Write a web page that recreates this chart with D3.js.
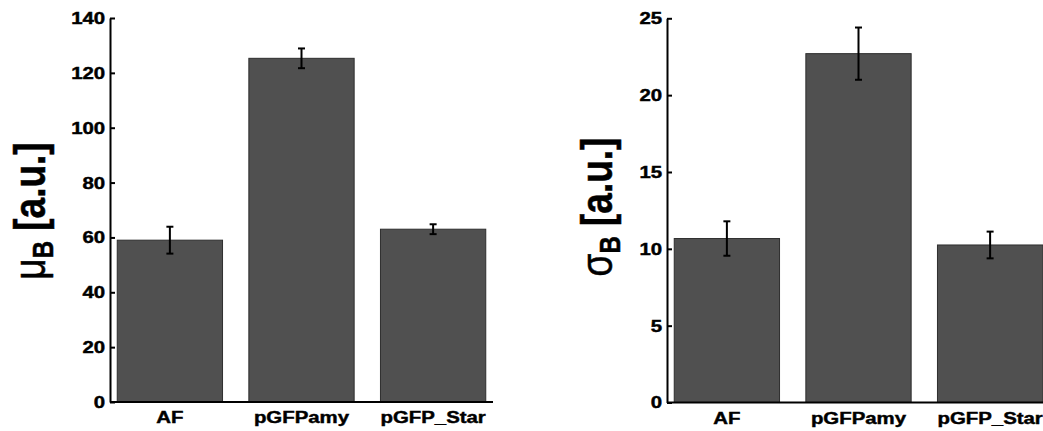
<!DOCTYPE html>
<html>
<head>
<meta charset="utf-8">
<script src="https://cdn.jsdelivr.net/npm/d3@7"></script>
<style>
  body { margin: 0; background: #fff; }
  svg { display: block; }
  text { font-family: "Liberation Sans", Arial, sans-serif; font-weight: bold; fill: #000; stroke: #000; stroke-width: 0.45px; }
</style>
</head>
<body>
<svg id="chart" width="1043" height="431"></svg>
<script>
const categories = ["AF", "pGFPamy", "pGFP_Star"];
// mean fluorescence (mu_B) and its error
const muValues = [59, 125.3, 63];
const muErrors = [4.9, 3.6, 1.8];
// std of fluorescence (sigma_B) and its error
const sigmaValues = [10.67, 22.7, 10.25];
const sigmaErrors = [1.12, 1.7, 0.87];
const muTicks = [0, 20, 40, 60, 80, 100, 120, 140];
const sigmaTicks = [0, 5, 10, 15, 20, 25];

const STRETCH = 1.2; // source picture is stretched horizontally
const BAR_W = 0.8;

const svg = d3.select("#chart");

function drawPanel(opt) {
  const x = d3.scaleLinear().domain([0.545, 3.455]).range([opt.x0, opt.x1]);
  const y = d3.scaleLinear().domain([0, opt.max]).range([opt.y0, opt.y1]);
  const g = svg.append("g");

  // bars
  g.selectAll("rect.bar")
    .data(opt.values)
    .enter()
    .append("rect")
    .attr("class", "bar")
    .attr("x", (d, i) => x(i + 1 - BAR_W / 2))
    .attr("width", (d, i) => x(i + 1 + BAR_W / 2) - x(i + 1 - BAR_W / 2))
    .attr("y", (d) => y(d))
    .attr("height", (d) => y(0) - y(d))
    .attr("fill", "#505050")
    .attr("stroke", "#2e2e2e")
    .attr("stroke-width", 1);

  // error bars
  const eb = g.selectAll("g.err")
    .data(opt.values)
    .enter()
    .append("g")
    .attr("class", "err")
    .attr("stroke", "#000")
    .attr("stroke-width", 2);
  eb.append("line")
    .attr("x1", (d, i) => x(i + 1))
    .attr("x2", (d, i) => x(i + 1))
    .attr("y1", (d, i) => y(d - opt.errors[i]))
    .attr("y2", (d, i) => y(d + opt.errors[i]));
  [-1, 1].forEach((s) => {
    eb.append("line")
      .attr("x1", (d, i) => x(i + 1) - 3.5)
      .attr("x2", (d, i) => x(i + 1) + 3.5)
      .attr("y1", (d, i) => y(d + s * opt.errors[i]))
      .attr("y2", (d, i) => y(d + s * opt.errors[i]));
  });

  // x axis line
  g.append("line")
    .attr("x1", opt.x0).attr("x2", opt.x1)
    .attr("y1", y(0)).attr("y2", y(0))
    .attr("stroke", "#000").attr("stroke-width", 2);

  // y axis
  const ax = g.append("g")
    .attr("transform", `translate(${opt.x0},0)`)
    .call(d3.axisLeft(y).tickValues(opt.ticks).tickSize(-5).tickSizeOuter(0).tickPadding(4));
  ax.select(".domain").attr("stroke", "#000").attr("stroke-width", 2);
  ax.selectAll(".tick line").attr("stroke", "#000").attr("stroke-width", 2);
  ax.selectAll(".tick text")
    .attr("font-size", 17)
    .attr("transform", `scale(${STRETCH},1)`)
    .attr("fill", "#000");

  // category labels
  g.selectAll("text.cat")
    .data(categories)
    .enter()
    .append("text")
    .attr("class", "cat")
    .attr("text-anchor", "middle")
    .attr("font-size", 17)
    .attr("transform", (d, i) => `translate(${x(i + 1)},${opt.y0 + 21}) scale(${STRETCH},1)`)
    .text((d) => d);

  // y label
  const lab = g.append("text")
    .attr("text-anchor", "middle")
    .attr("font-size", 37)
    .attr("transform", `translate(${opt.labelX},${opt.labelY}) scale(${STRETCH},1) rotate(-90)`);
  lab.append("tspan").attr("font-weight", "normal").text(opt.symbol);
  lab.append("tspan").attr("font-size", 24).attr("dy", 7).text("B");
  lab.append("tspan").attr("dy", -7).text(" [a.u.]");
}

drawPanel({
  x0: 110, x1: 493, y0: 402, y1: 18, max: 140,
  values: muValues, errors: muErrors, ticks: muTicks,
  symbol: "\u03bc", labelX: 45, labelY: 211
});

drawPanel({
  x0: 667, x1: 1050, y0: 402.5, y1: 18.3, max: 25,
  values: sigmaValues, errors: sigmaErrors, ticks: sigmaTicks,
  symbol: "\u03c3", labelX: 612, labelY: 207
});
</script>
</body>
</html>
